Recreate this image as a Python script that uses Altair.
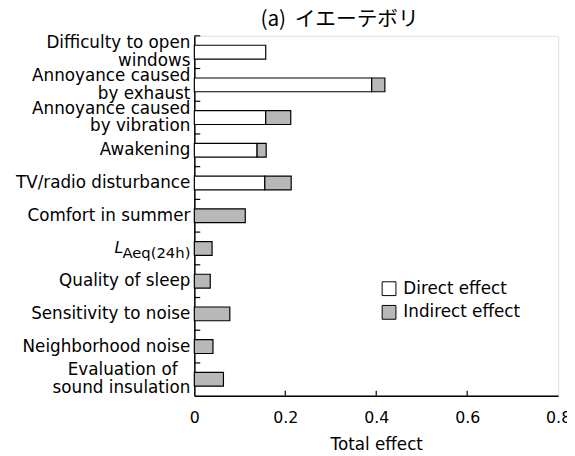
import altair as alt
import pandas as pd

FONT = "DejaVu Sans"
JFONT = "Noto Sans CJK JP"

categories = [
    "Difficulty to open|windows",
    "Annoyance caused|by exhaust",
    "Annoyance caused|by vibration",
    "Awakening",
    "TV/radio disturbance",
    "Comfort in summer",
    "LAeq(24h)",
    "Quality of sleep",
    "Sensitivity to noise",
    "Neighborhood noise",
    "Evaluation of|sound insulation",
]
direct = [0.157, 0.390, 0.157, 0.138, 0.155, 0, 0, 0, 0, 0, 0]
indirect = [0, 0.029, 0.055, 0.020, 0.058, 0.112, 0.039, 0.035, 0.078, 0.041, 0.064]
effect_types = ["Direct effect", "Indirect effect"]
x_ticks = [0, 0.2, 0.4, 0.6, 0.8]
inner_ticks = [0.2, 0.4, 0.6]
title_text = "(a) \u2009イエーテボリ"
laeq_main = "L"
laeq_sub = "Aeq(24h)"

# style tweaks (not data)
HALF_LINE = 9
centered_line = "Evaluation of"

rows = []
for c, d, i in zip(categories, direct, indirect):
    if d > 0:
        rows.append({"cat": c, "type": effect_types[0], "value": d, "ord": 0})
    if i > 0:
        rows.append({"cat": c, "type": effect_types[1], "value": i, "ord": 1})
df = pd.DataFrame(rows)

label_rows = []
for c in categories:
    if c == "LAeq(24h)":
        continue
    lines = c.split("|")
    if len(lines) == 1:
        label_rows.append({"cat": c, "line": lines[0], "pos": "single"})
    else:
        label_rows.append({"cat": c, "line": lines[0], "pos": "top"})
        label_rows.append({"cat": c, "line": lines[1], "pos": "bottom"})
labels_df = pd.DataFrame(label_rows)

W, H = 369, 365
ysc = alt.Scale(domain=categories, paddingInner=0, paddingOuter=0)
xsc = alt.Scale(domain=[0, 0.8], nice=False)

bars = alt.Chart(df).mark_bar(size=14, stroke="black", strokeWidth=1.2).encode(
    y=alt.Y(
        "cat:N",
        scale=ysc,
        sort=categories,
        axis=alt.Axis(
            title=None,
            ticks=False,
            labels=False,
            domainColor="black",
            domainWidth=1.5,
            grid=False,
        ),
    ),
    x=alt.X(
        "value:Q",
        stack="zero",
        scale=xsc,
        axis=alt.Axis(
            title="Total effect",
            values=x_ticks,
            labelExpr="datum.value == 0 ? '0' : format(datum.value, '.1f')",
            ticks=False,
            grid=False,
            labelFont=FONT,
            labelFontSize=16,
            labelPadding=14,
            labelColor="black",
            labelFlush=False,
            titleFont=FONT,
            titleFontSize=17,
            titleFontWeight="normal",
            titleColor="black",
            titlePadding=12,
            domainColor="black",
            domainWidth=1.5,
        ),
    ),
    color=alt.Color(
        "type:N",
        scale=alt.Scale(domain=effect_types, range=["white", "#b8b8b8"]),
        legend=alt.Legend(
            title=None,
            orient="none",
            legendX=189,
            legendY=248,
            symbolType="square",
            symbolSize=196,
            symbolStrokeColor="black",
            symbolStrokeWidth=1,
            labelFont=FONT,
            labelFontSize=17,
            labelColor="black",
            labelOffset=6,
            rowPadding=5,
        ),
    ),
    order=alt.Order("ord:Q"),
)

ytick = alt.Chart(pd.DataFrame({"cat": categories})).mark_rule(
    color="black", strokeWidth=1.2
).encode(
    y=alt.Y("cat:N", scale=ysc, sort=categories, bandPosition=0),
    x=alt.value(0),
    x2=alt.value(6),
)

xtick = alt.Chart(pd.DataFrame({"v": inner_ticks})).mark_rule(
    color="black", strokeWidth=1.2
).encode(
    x=alt.X("v:Q", scale=xsc),
    y=alt.value(H),
    y2=alt.value(H - 5),
)


def label_layer(filt, dy, dx=0):
    return alt.Chart(labels_df).transform_filter(filt).mark_text(
        align="right", baseline="middle", font=FONT, fontSize=17, color="black",
        dy=dy, dx=dx,
    ).encode(
        y=alt.Y("cat:N", scale=ysc, sort=categories),
        x=alt.value(-4),
        text="line:N",
    )


lab_single = label_layer("datum.pos == 'single'", 0)
lab_top = label_layer(f"datum.pos == 'top' && datum.line != '{centered_line}'", -HALF_LINE)
lab_top_c = label_layer(f"datum.line == '{centered_line}'", -HALF_LINE, -13)
lab_bottom = label_layer("datum.pos == 'bottom'", HALF_LINE)

lab = pd.DataFrame({"cat": ["LAeq(24h)"], "main": [laeq_main], "sub": [laeq_sub]})
sub_text = alt.Chart(lab).mark_text(
    align="right", baseline="middle", font=FONT, fontSize=15, dy=5, color="black"
).encode(
    y=alt.Y("cat:N", scale=ysc, sort=categories),
    x=alt.value(-4),
    text="sub:N",
)
main_text = alt.Chart(lab).mark_text(
    align="right", baseline="middle", font=FONT, fontSize=16, fontStyle="italic", dy=0, color="black"
).encode(
    y=alt.Y("cat:N", scale=ysc, sort=categories),
    x=alt.value(-72),
    text="main:N",
)

chart = (
    alt.layer(bars, ytick, xtick, lab_single, lab_top, lab_top_c, lab_bottom, sub_text, main_text)
    .properties(
        width=W,
        height=H,
        title=alt.TitleParams(
            title_text,
            anchor="start",
            frame="group",
            dx=67,
            offset=5,
            font=JFONT,
            fontSize=21,
            fontWeight="normal",
            color="black",
        ),
        padding={"left": 189, "top": 25, "right": 9, "bottom": 58},
        autosize=alt.AutoSizeParams(type="none"),
    )
    .configure_view(stroke="black", strokeWidth=1.5)
    .configure(background="white")
)

chart.save("out.html", embed_options={"renderer": "svg", "actions": False})
